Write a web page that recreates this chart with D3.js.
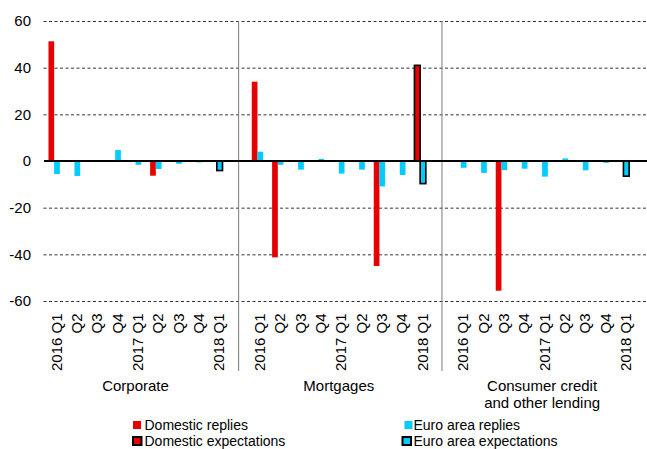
<!DOCTYPE html>
<html>
<head>
<meta charset="utf-8">
<script src="https://cdn.jsdelivr.net/npm/d3@7/dist/d3.min.js"></script>
<style>
  html, body { margin: 0; padding: 0; background: #fff; }
  svg { display: block; font-family: "Liberation Sans", Arial, sans-serif; }
</style>
</head>
<body>
<div id="chart"></div>
<script>
// Quarterly survey replies: net percentages by lending type
const quarterLabels = ["2016 Q1", "Q2", "Q3", "Q4", "2017 Q1", "Q2", "Q3", "Q4", "2018 Q1"];
const groupLabels = [["Corporate"], ["Mortgages"], ["Consumer credit", "and other lending"]];

// Replies, 2016 Q1 – 2017 Q4, one row per lending type
const domesticReplies = [
  [51.3, 0, 0, 0, 0, -6.3, 0, 0],
  [34.0, -41.3, 0, 0, 0, 0, -45.0, 0],
  [0, 0, -55.6, 0, 0, 0, 0, 0]
];
const euroAreaReplies = [
  [-5.6, -6.4, 0, 4.7, -1.6, -3.4, -1.2, -0.6],
  [4.0, -1.6, -3.7, 0.9, -5.4, -3.7, -10.9, -6.0],
  [-2.9, -5.1, -3.9, -3.3, -6.7, 1.1, -4.0, -0.8]
];
// Expectations for 2018 Q1, one value per lending type
const domesticExpectations = [0, 41.0, 0];
const euroAreaExpectations = [-4.1, -9.7, -6.5];

const yTicks = [-60, -40, -20, 0, 20, 40, 60];

const legendItems = [
  { label: "Domestic replies", color: "#e60000", outline: false },
  { label: "Euro area replies", color: "#00ccff", outline: false },
  { label: "Domestic expectations", color: "#e60000", outline: true },
  { label: "Euro area expectations", color: "#00ccff", outline: true }
];

const W = 647, H = 449;
const RED = "#e60000", CYAN = "#00ccff";
const SLOTS_PER_GROUP = 10; // nine quarters plus a spacer between groups

const svg = d3.select("#chart").append("svg")
  .attr("width", W).attr("height", H);

// Flatten into bar records with a slot index per quarter
const bars = [];
groupLabels.forEach((g, gi) => {
  quarterLabels.forEach((q, qi) => {
    const slot = gi * SLOTS_PER_GROUP + qi;
    if (qi < 8) {
      bars.push({ slot, side: 0, value: domesticReplies[gi][qi], color: RED, outline: false });
      bars.push({ slot, side: 1, value: euroAreaReplies[gi][qi], color: CYAN, outline: false });
    } else {
      bars.push({ slot, side: 0, value: domesticExpectations[gi], color: RED, outline: true });
      bars.push({ slot, side: 1, value: euroAreaExpectations[gi], color: CYAN, outline: true });
    }
  });
});

const nSlots = groupLabels.length * SLOTS_PER_GROUP - 1;
const x = d3.scaleBand().domain(d3.range(nSlots)).range([44, 633.6]);
const cx = s => x(s) + x.bandwidth() / 2;
const y = d3.scaleLinear().domain([-60, 60]).range([301, 21]);

const plotLeft = 43.5, plotRight = 647;

// Y axis with dashed gridlines
const yAxis = svg.append("g")
  .attr("transform", `translate(${plotLeft},0)`)
  .call(d3.axisLeft(y).tickValues(yTicks).tickFormat(d => String(d))
    .tickSizeInner(-(plotRight - plotLeft)).tickSizeOuter(0).tickPadding(12.5));
yAxis.select(".domain").remove();
yAxis.selectAll(".tick line")
  .attr("stroke", d => d === 0 ? "none" : "#333")
  .attr("stroke-width", 1)
  .attr("stroke-dasharray", "3,2.5");
yAxis.selectAll(".tick text")
  .attr("fill", "#000")
  .style("font-size", "15px")
  .style("font-family", "'Liberation Sans', Arial, sans-serif");

// Group dividers
const dividerSlots = d3.range(1, groupLabels.length).map(i => i * SLOTS_PER_GROUP - 1);
svg.append("g").selectAll("line").data(dividerSlots).join("line")
  .attr("x1", s => cx(s) + 1.5).attr("x2", s => cx(s) + 1.5)
  .attr("y1", y(60)).attr("y2", 371)
  .attr("stroke", "#7a7a7a").attr("stroke-width", 1);

// Bars
const bw = 5.7;
svg.append("g").selectAll("rect").data(bars.filter(d => d.value !== 0)).join("rect")
  .attr("x", d => cx(d.slot) + (d.side === 0 ? -bw : 0))
  .attr("width", bw)
  .attr("y", d => y(Math.max(0, d.value)))
  .attr("height", d => Math.abs(y(d.value) - y(0)))
  .attr("fill", d => d.color)
  .attr("stroke", d => d.outline ? "#000" : "none")
  .attr("stroke-width", d => d.outline ? 1.6 : 0);

// Zero line
svg.append("line")
  .attr("x1", 44).attr("x2", plotRight)
  .attr("y1", y(0)).attr("y2", y(0))
  .attr("stroke", "#000").attr("stroke-width", 2);

// Quarter labels, rotated
const xLabels = [];
groupLabels.forEach((g, gi) => quarterLabels.forEach((q, qi) =>
  xLabels.push({ slot: gi * SLOTS_PER_GROUP + qi, text: q })));
svg.append("g").selectAll("text").data(xLabels).join("text")
  .attr("transform", d => `translate(${cx(d.slot) + 7.5},313.5) rotate(-90)`)
  .attr("text-anchor", "end")
  .style("font-size", "15px")
  .text(d => d.text);

// Group labels
groupLabels.forEach((lines, gi) => {
  const t = svg.append("text")
    .attr("x", cx(gi * SLOTS_PER_GROUP + 4))
    .attr("y", 391)
    .attr("text-anchor", "middle")
    .style("font-size", "15px");
  lines.forEach((ln, li) => t.append("tspan")
    .attr("x", cx(gi * SLOTS_PER_GROUP + 4))
    .attr("dy", li === 0 ? 0 : 17)
    .text(ln));
});

// Legend
const legendPos = [
  { sx: 133, sy: 421, tx: 144.5, ty: 429.5 },
  { sx: 404.5, sy: 421, tx: 413.5, ty: 429.5 },
  { sx: 133, sy: 437, tx: 144.5, ty: 446 },
  { sx: 402.5, sy: 437, tx: 413.5, ty: 446 }
];
const lg = svg.append("g").selectAll("g").data(legendItems).join("g");
lg.append("rect")
  .attr("x", (d, i) => legendPos[i].sx)
  .attr("y", (d, i) => legendPos[i].sy)
  .attr("width", d => d.outline ? 8.5 : 8)
  .attr("height", 8)
  .attr("fill", d => d.color)
  .attr("stroke", d => d.outline ? "#000" : "none")
  .attr("stroke-width", d => d.outline ? 2 : 0);
lg.append("text")
  .attr("x", (d, i) => legendPos[i].tx)
  .attr("y", (d, i) => legendPos[i].ty)
  .style("font-size", "14px")
  .text(d => d.label);
</script>
</body>
</html>
